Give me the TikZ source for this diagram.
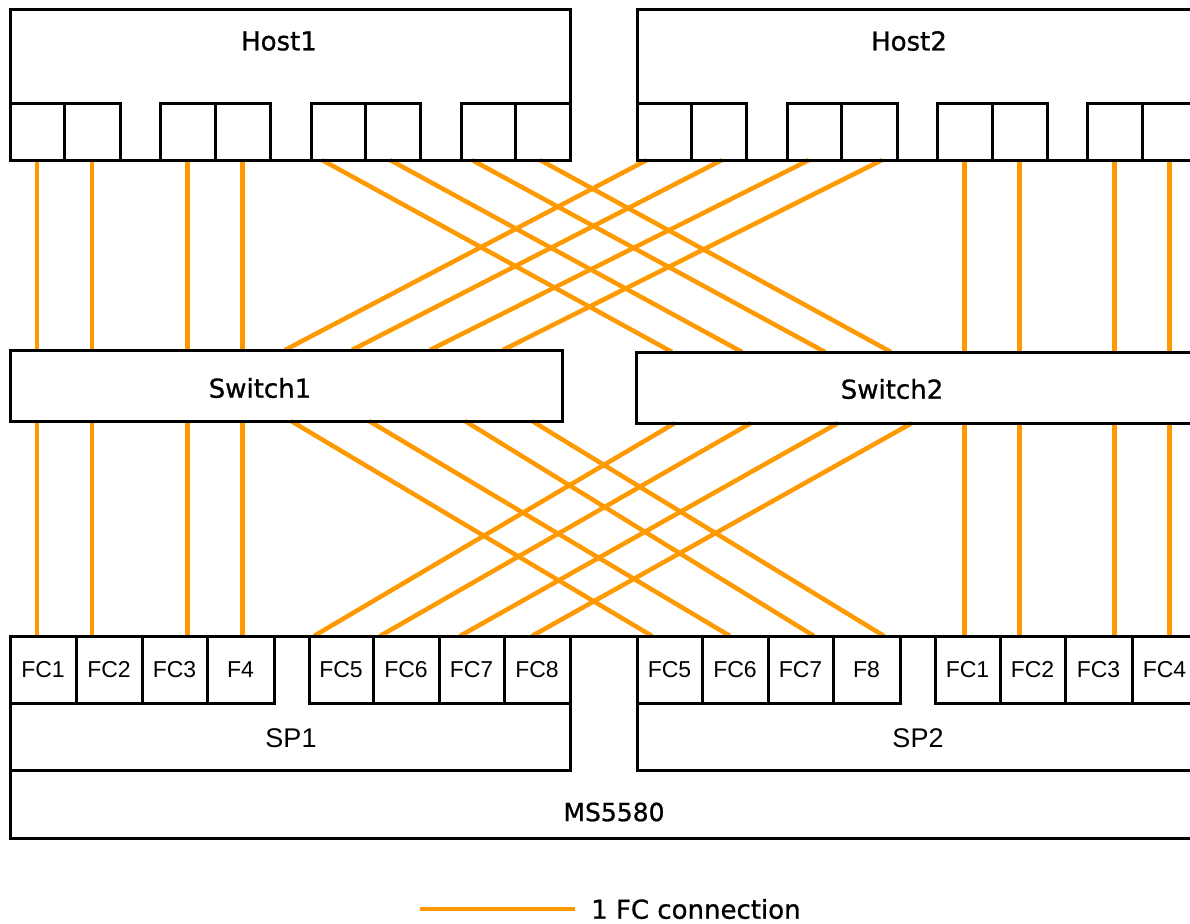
\documentclass[tikz,border=0pt]{standalone}
\usepackage{fontspec}
\setmainfont{DejaVu Sans}
\newfontfamily\lblfont{DejaVu Sans}[FakeBold=0.9]
\newfontfamily\arialf{Liberation Sans}
\usetikzlibrary{calc}
\definecolor{fcorange}{RGB}{255,153,0}
\pgfdeclarelayer{bg}
\pgfsetlayers{bg,main}
\begin{document}
\begin{tikzpicture}[x=1pt,y=-1pt,
  box/.style={draw=black, line width=3pt, rectangle, inner sep=0pt, outer sep=0pt, anchor=north west},
  fc/.style={draw=fcorange, line width=4.5pt},
  lbl/.style={font=\lblfont\fontsize{26}{30}\selectfont, inner sep=0pt},
  plbl/.style={font=\arialf\fontsize{23}{27}\selectfont},
  splbl/.style={font=\arialf\fontsize{27}{31}\selectfont, inner sep=0pt}]
\useasboundingbox (0,0) rectangle (1190,923);

% Hosts
\node[box, minimum width=560, minimum height=150] (host1) at (10,10) {};
\node[box, minimum width=560, minimum height=150] (host2) at (637,10) {};
\foreach \n/\l/\r in {1/10/64,2/64/120,3/160/215,4/215/270,5/311/365,6/365/420,7/461/515,8/515/570}{
  \pgfmathsetmacro\w{\r-\l}
  \node[box, minimum width=\w, minimum height=56] (h1p\n) at (\l,104) {};
}
\foreach \n/\l/\r in {1/637/691,2/691/746,3/787/841,4/841/897,5/937/992,6/992/1047,7/1087/1142,8/1142/1197}{
  \pgfmathsetmacro\w{\r-\l}
  \node[box, minimum width=\w, minimum height=56] (h2p\n) at (\l,104) {};
}
\node[lbl] (h1t) at (279,41) {Host1};
\node[lbl] (h2t) at (909,41) {Host2};

% Switches
\node[box, minimum width=552, minimum height=71] (sw1) at (10,350) {};
\node[box, minimum width=564, minimum height=71] (sw2) at (636,352) {};
\node[lbl] (sw1t) at (260,388) {Switch1};
\node[lbl] (sw2t) at (892,389) {Switch2};

% Storage
\node[box, minimum width=1190, minimum height=202] (ms) at (10,636) {};
\node[box, minimum width=560, minimum height=134] (sp1) at (10,636) {};
\node[box, minimum width=563, minimum height=134] (sp2) at (637,636) {};
\foreach \n/\l/\r/\t in {1/10/76/FC1,2/76/142/FC2,3/142/207/FC3,4/207/274/F4,5/309/373/FC5,6/373/439/FC6,7/439/504/FC7,8/504/570/FC8}{
  \pgfmathsetmacro\w{\r-\l}
  \node[box, plbl, minimum width=\w, minimum height=67] (sa\n) at (\l,636) {\t};
}
\foreach \n/\l/\r/\t in {1/637/702/FC5,2/702/768/FC6,3/768/833/FC7,4/833/900/F8,5/935/1000/FC1,6/1000/1065/FC2,7/1065/1132/FC3,8/1132/1197/FC4}{
  \pgfmathsetmacro\w{\r-\l}
  \node[box, plbl, minimum width=\w, minimum height=67] (sb\n) at (\l,636) {\t};
}
\node[splbl] (sp1t) at (291,738) {SP1};
\node[splbl] (sp2t) at (918,738) {SP2};
\node[lbl, font=\lblfont\fontsize{25}{30}\selectfont] (mst) at (614,812) {MS5580};

% Legend
\coordinate (lg1) at (420,909);
\coordinate (lg2) at (575,909);
\node[lbl, anchor=west] (lgt) at (591,909) {1 FC connection};

\begin{pgfonlayer}{bg}
  \fill[white] (0,0) rectangle (1190,923);
  % vertical connections
  \foreach \i in {1,2,3,4}{
    \draw[fc] (h1p\i.south) -- (h1p\i.south |- sw1.north);
    \draw[fc] (sw1.south -| h1p\i.south) -- (ms.north -| h1p\i.south);
  }
  \foreach \i in {5,6,7,8}{
    \draw[fc] (h2p\i.south) -- (h2p\i.south |- sw2.north);
    \draw[fc] (sw2.south -| h2p\i.south) -- (ms.north -| h2p\i.south);
  }
  % Host1 -> Switch2
  \foreach \a/\b [count=\i] in {322/672,390/742,472/825,540/891}{
    \coordinate (ua\i) at (\a,0 |- host1.south);
    \coordinate (va\i) at (\b,0 |- sw2.north);
    \draw[fc] (ua\i) -- (va\i);
  }
  % Host2 -> Switch1
  \foreach \a/\b [count=\i] in {647/285,722/352,809/430,882/503}{
    \coordinate (ub\i) at (\a,0 |- host2.south);
    \coordinate (vb\i) at (\b,0 |- sw1.north);
    \draw[fc] (ub\i) -- (vb\i);
  }
  % Switch1 -> SP2
  \foreach \a/\b [count=\i] in {291/652,369/730,465/814,532/884}{
    \coordinate (uc\i) at (\a,0 |- sw1.south);
    \coordinate (vc\i) at (\b,0 |- ms.north);
    \draw[fc] (uc\i) -- (vc\i);
  }
  % Switch2 -> SP1
  \foreach \a/\b [count=\i] in {675/314,751/380,838/460,912/532}{
    \coordinate (ud\i) at (\a,0 |- sw2.south);
    \coordinate (vd\i) at (\b,0 |- ms.north);
    \draw[fc] (ud\i) -- (vd\i);
  }
  \draw[fc] (lg1) -- (lg2);
\end{pgfonlayer}
\end{tikzpicture}
\end{document}
